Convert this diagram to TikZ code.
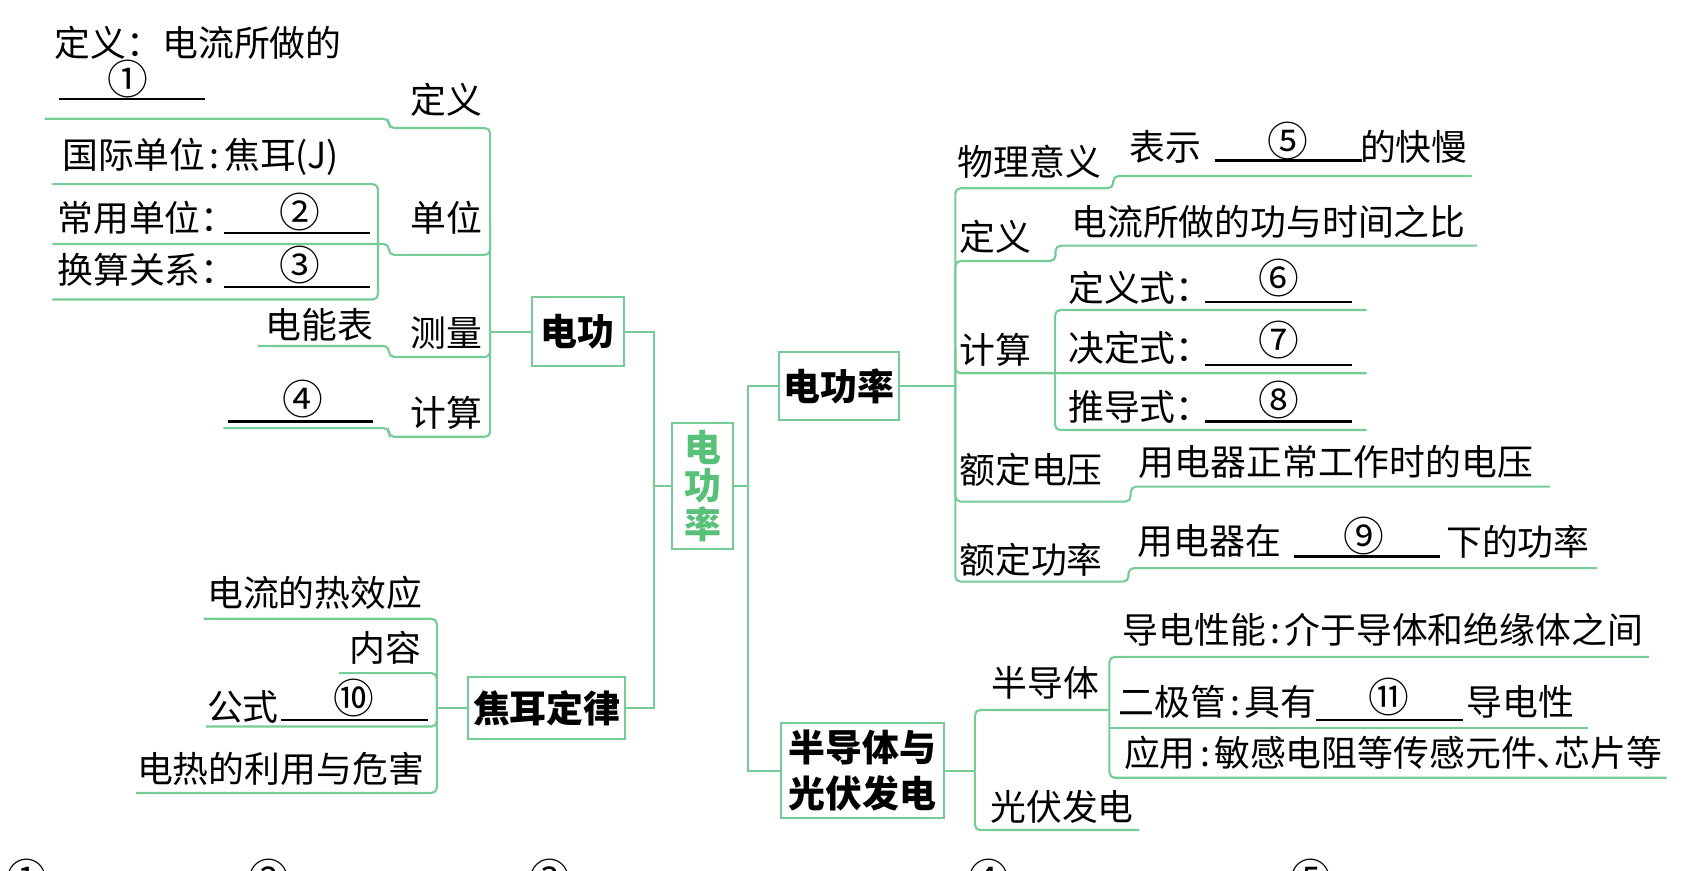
\documentclass[tikz,border=0pt]{standalone}
\usepackage{fontspec}
\setmainfont{Noto Sans CJK SC}
\definecolor{ln}{RGB}{118,204,150}
\definecolor{gtxt}{RGB}{88,192,120}
\newcommand{\hc}{\kern0.12em:\kern0.12em}
\tikzset{
  twig/.style={draw=ln, line width=0.6pt, rounded corners=1.5pt},
  stem/.style={draw=ln, line width=0.6pt},
  topic/.style={draw=ln, line width=0.6pt, fill=white, inner sep=0pt,
    font=\fontsize{10.5pt}{12pt}\selectfont\bfseries},
  txt/.style={inner sep=0pt, font=\fontsize{10.2pt}{12pt}\selectfont},
  num/.style={inner sep=0pt, font=\fontsize{11.6pt}{13pt}\selectfont},
  blank/.style={draw=black, line width=0.7pt},
}
\begin{document}
\begin{tikzpicture}[x=0.010893cm, y=-0.010893cm]
	\clip (0,0) rectangle (1568,799);
	% topic boxes
	\node[topic, minimum width=0.926cm, minimum height=0.686cm] (dg) at (530.5,304.5) {电功};
	\node[topic, text=gtxt, align=center, minimum width=0.61cm, minimum height=1.264cm,
		font=\fontsize{10.5pt}{10.9pt}\selectfont\bfseries] (root) at (645,446) {电\\功\\率};
	\node[topic, minimum width=1.198cm, minimum height=0.686cm] (dgl) at (770,354.5) {电功率};
	\node[topic, minimum width=1.569cm, minimum height=0.621cm] (jr) at (502,650) {焦耳定律};
	\node[topic, align=center, minimum width=1.634cm, minimum height=0.948cm,
		font=\fontsize{10.5pt}{13.2pt}\selectfont\bfseries] (bd) at (792,707.5) {半导体与\\光伏发电};
	% stems between boxes
	\draw[stem] (dg.east) -| (600,650) -- (jr.east);
	\draw[stem] (600,446) -- (root.west);
	\draw[stem] (root.east) -- (687,446);
	\draw[stem] (dgl.west) -| (687,707.5) -- (bd.west);
	\draw[stem] (dgl.east) -- (877,354.5);
	\draw[stem] (bd.east) -- (895,707.5);
	\draw[stem] (dg.west) -- (450,304.5);
	\draw[stem] (jr.west) -- (401,650);
	% twigs of 电功
	\draw[twig] (41,109) -- (357,109) -- (357,117.5) -- (450,117.5) -- (450,304.5);
	\draw[twig] (48,224) -- (357,224) -- (357,234) -- (450,234) -- (450,200);
	\draw[twig] (48,169) -- (347,169) -- (347,275) -- (48,275);
	\draw[twig] (237,317.6) -- (357,317.6) -- (357,327.7) -- (450,327.7) -- (450,304.5);
	\draw[twig] (205,393) -- (357,393) -- (357,401) -- (450,401) -- (450,304.5);
	% twigs of 电功率
	\draw[twig] (1351,161.6) -- (1022,161.6) -- (1022,172.8) -- (877,172.8) -- (877,354.5);
	\draw[twig] (1356,225.5) -- (969,225.5) -- (969,239.6) -- (877,239.6) -- (877,354.5);
	\draw[twig] (1254.5,284.6) -- (968.6,284.6) -- (968.6,394.8) -- (1254.5,394.8);
	\draw[twig] (1254.5,342.7) -- (877,342.7) -- (877,320);
	\draw[twig] (1423,446.8) -- (1038,446.8) -- (1038,460.5) -- (877,460.5) -- (877,354.5);
	\draw[twig] (1466,521.6) -- (1036,521.6) -- (1036,534) -- (877,534) -- (877,354.5);
	% twigs of 半导体与光伏发电
	\draw[twig] (895,707.5) -- (895,651.8) -- (1018.5,651.8);
	\draw[twig] (895,707.5) -- (895,762) -- (1046,762);
	\draw[twig] (1513.6,603) -- (1018.5,603) -- (1018.5,714) -- (1530,714);
	\draw[twig] (1018.5,668.6) -- (1458,668.6);
	% twigs of 焦耳定律
	\draw[twig] (187,568) -- (401,568) -- (401,650);
	\draw[twig] (311,618) -- (401,618) -- (401,650);
	\draw[twig] (189,667) -- (401,667) -- (401,650);
	\draw[twig] (125,728) -- (401,728) -- (401,650);
	% blanks
	\draw[blank] (54,91) -- (188,91);
	\draw[blank] (206,214) -- (340,214);
	\draw[blank] (206,263.5) -- (340,263.5);
	\draw[blank] (209,387) -- (342,387);
	\draw[blank] (1115,147.5) -- (1250,147.5);
	\draw[blank] (1106,277) -- (1241,277);
	\draw[blank] (1106,335) -- (1241,335);
	\draw[blank] (1106,387) -- (1241,387);
	\draw[blank] (1188,511) -- (1322,511);
	\draw[blank] (1208,661) -- (1343,661);
	\draw[blank] (258,661) -- (393,661);
	% labels, 电功
	\node[txt] (dyt) at (182,39) {定义：电流所做的};
	\node[num] (n1) at (117,72.5) {①};
	\node[txt] (dy) at (410,92) {定义};
	\node[txt] (gj) at (184,144) {国际单位\hc 焦耳(J)};
	\node[txt] (dw) at (410,200) {单位};
	\node[txt, anchor=west] (cy) at (52,200) {常用单位：};
	\node[num] (n2) at (275,195) {②};
	\node[txt, anchor=west] (hs) at (52,248) {换算关系：};
	\node[num] (n3) at (275,243) {③};
	\node[txt] (dnb) at (293.5,298) {电能表};
	\node[txt] (cl) at (410,305.7) {测量};
	\node[num] (n4) at (278,366) {④};
	\node[txt] (js) at (410,379) {计算};
	% labels, 电功率
	\node[txt] (wl) at (945,148.5) {物理意义};
	\node[txt] (bs) at (1070,135) {表示};
	\node[num] (n5) at (1182,129) {⑤};
	\node[txt] (km) at (1298,135) {的快慢};
	\node[txt] (dy2) at (913.5,217) {定义};
	\node[txt] (dyx) at (1164.5,203.7) {电流所做的功与时间之比};
	\node[txt] (js2) at (913.5,321) {计算};
	\node[txt, anchor=west] (dys) at (980,264.5) {定义式：};
	\node[num] (n6) at (1174,255) {⑥};
	\node[txt, anchor=west] (jds) at (980,319.6) {决定式：};
	\node[num] (n7) at (1174,312) {⑦};
	\node[txt, anchor=west] (tds) at (980,373.5) {推导式：};
	\node[num] (n8) at (1174,367) {⑧};
	\node[txt] (edy) at (946.5,431.5) {额定电压};
	\node[txt] (edyx) at (1226.5,423.8) {用电器正常工作时的电压};
	\node[txt] (edg) at (946.5,514) {额定功率};
	\node[txt] (yq) at (1110.5,497) {用电器在};
	\node[num] (n9) at (1252,492) {⑨};
	\node[txt] (xg) at (1393.5,497) {下的功率};
	% labels, 半导体与光伏发电
	\node[txt] (bdt) at (960,627) {半导体};
	\node[txt] (ddx) at (1269.5,578) {导电性能\hc 介于导体和绝缘体之间};
	\node[txt, anchor=west] (ejg) at (1026,644) {二极管\hc 具有};
	\node[num] (n11) at (1275,640) {⑪};
	\node[txt, anchor=west] (ddx2) at (1346,644) {导电性};
	\node[txt] (yy) at (1279,691.5) {应用\hc 敏感电阻等传感元件、\kern-0.5em芯片等};
	\node[txt] (gf) at (975,740.6) {光伏发电};
	% labels, 焦耳定律
	\node[txt] (rxy) at (289,544) {电流的热效应};
	\node[txt] (nr) at (353.5,595) {内容};
	\node[txt] (gs) at (223,649) {公式};
	\node[num] (n10) at (325,641) {⑩};
	\node[txt] (dr) at (257.5,706) {电热的利用与危害};
	% cut-off numbers along the bottom edge
	\foreach \x/\t in {25/①, 247/②, 505/③, 908/④, 1203/⑤}
		\node[num] (cut\x) at (\x,806) {\t};
\end{tikzpicture}
\end{document}
